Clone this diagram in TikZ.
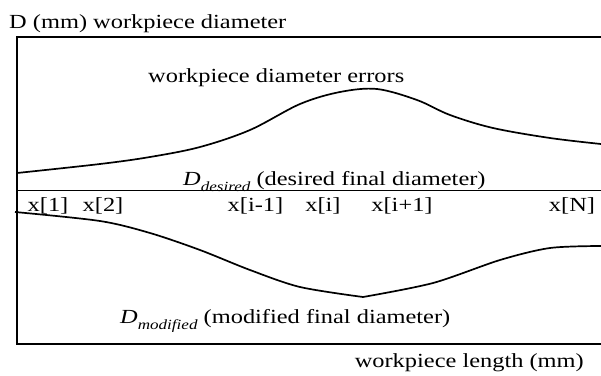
\documentclass[tikz,border=0pt]{standalone}
\usepackage{fontspec}
\usepackage{graphicx}
\setmainfont{Liberation Serif}
\newcommand{\hsx}[1]{\scalebox{1.22}[1]{#1}}
\newcommand{\subD}[1]{\textit{D}\raisebox{-0.3em}{\fontsize{14}{14}\selectfont\itshape #1}}
\tikzset{
  lbl/.style={inner sep=0pt, font=\fontsize{20}{22}\selectfont},
  frame/.style={line width=1.5pt},
  curve/.style={line width=1.7pt}
}
\begin{document}
\begin{tikzpicture}[x=1pt,y=-1pt]
\useasboundingbox (0,0) rectangle (601,375);
% frame
\coordinate (tl) at (17,37);
\coordinate (tr) at (601,37);
\coordinate (ml) at (17,190.5);
\coordinate (mr) at (601,190.5);
\coordinate (bl) at (17,344);
\coordinate (br) at (601,344);
\draw[frame] (tr) -- (tl) -- (bl) -- (br);
\draw[frame] (ml) -- (mr);
% upper curve (workpiece diameter errors)
\draw[curve] plot[smooth, tension=0.55] coordinates {(17,173) (100,164) (150,157) (200,147) (250,130) (300,104) (340,92) (377,89) (417,100) (450,115) (493,128) (550,138) (601,144)};
% lower curve (modified)
\draw[curve] plot[smooth, tension=0.5] coordinates {(15,212) (100,221) (150,233) (200,250) (250,270) (300,287) (363,297)};
\draw[curve] plot[smooth, tension=0.5] coordinates {(363,297) (433,283) (500,260) (550,248) (601,246)};
% labels
\node[lbl, anchor=base west] (ylab) at (9,28) {\hsx{D (mm) workpiece diameter}};
\node[lbl, anchor=base west] (err) at (148,82) {\hsx{workpiece diameter errors}};
\node[lbl, anchor=base west] (des) at (183,185) {\hsx{\subD{desired} (desired final diameter)}};
\node[lbl, anchor=base west] (mod) at (120,323) {\hsx{\subD{modified} (modified final diameter)}};
\node[lbl, anchor=base east] (xlab) at (584,367) {\hsx{workpiece length (mm)}};
% x positions
\node[lbl, anchor=base] (x1) at (48,211) {\hsx{x[1]}};
\node[lbl, anchor=base] (x2) at (103,211) {\hsx{x[2]}};
\node[lbl, anchor=base] (xim) at (255.5,211) {\hsx{x[i-1]}};
\node[lbl, anchor=base] (xi) at (323,211) {\hsx{x[i]}};
\node[lbl, anchor=base] (xip) at (402,211) {\hsx{x[i+1]}};
\node[lbl, anchor=base] (xN) at (572,211) {\hsx{x[N]}};
\end{tikzpicture}
\end{document}
